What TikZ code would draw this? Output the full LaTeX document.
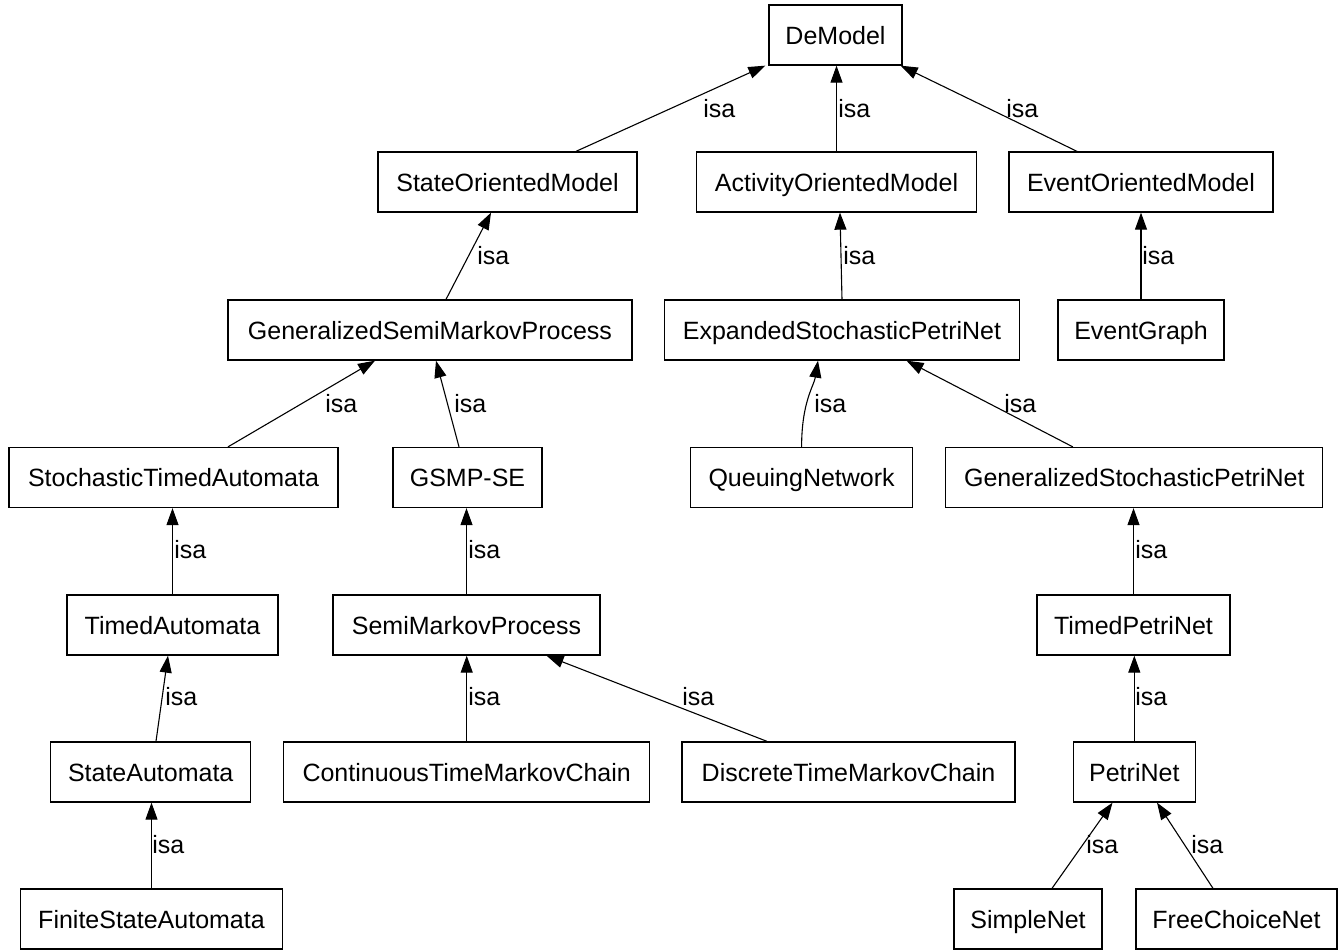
\documentclass[tikz,border=0pt]{standalone}
\usepackage{fontspec}
\setmainfont{Liberation Sans}
\usetikzlibrary{arrows.meta,calc}
\begin{document}
\begin{tikzpicture}[x=0.5pt,y=-0.5pt,
  box/.style={draw, line width=0.65pt, minimum height=30pt, inner sep=0pt,
    text height=9pt, text depth=0pt, font=\fontsize{12.5}{15}\selectfont},
  wd/.style={minimum width=#1*0.5pt},
  isa/.style={line width=0.55pt, -{Triangle[length=8.5pt,width=6pt]}},
  lbl/.style={font=\fontsize{12.5}{15}\selectfont, inner sep=0pt, anchor=base west}]
\useasboundingbox[fill=white] (0,0) rectangle (1344,950);

% nodes
\node[box, wd=133] (demodel) at (835.5,35) {DeModel};
\node[box, wd=259] (som) at (507.5,182) {StateOrientedModel};
\node[box, wd=280] (aom) at (836.5,182) {ActivityOrientedModel};
\node[box, wd=264] (eom) at (1141,182) {EventOrientedModel};
\node[box, wd=404] (gsmp) at (430,330) {GeneralizedSemiMarkovProcess};
\node[box, wd=355] (espn) at (842,330) {ExpandedStochasticPetriNet};
\node[box, wd=166] (eg) at (1141,330) {EventGraph};
\node[box, wd=329] (sta) at (173.5,477.5) {StochasticTimedAutomata};
\node[box, wd=149] (gsmpse) at (467.5,477.5) {GSMP-SE};
\node[box, wd=222] (qn) at (801.6,477.5) {QueuingNetwork};
\node[box, wd=377] (gspn) at (1134.3,477.5) {GeneralizedStochasticPetriNet};
\node[box, wd=211] (ta) at (172.5,625) {TimedAutomata};
\node[box, wd=267] (smp) at (466.5,625) {SemiMarkovProcess};
\node[box, wd=193] (tpn) at (1133.5,625) {TimedPetriNet};
\node[box, wd=200] (sa) at (150.7,772) {StateAutomata};
\node[box, wd=366] (ctmc) at (466.7,772) {ContinuousTimeMarkovChain};
\node[box, wd=333] (dtmc) at (848.5,772) {DiscreteTimeMarkovChain};
\node[box, wd=122] (pn) at (1134.3,772) {PetriNet};
\node[box, wd=262] (fsa) at (151.5,919) {FiniteStateAutomata};
\node[box, wd=148] (sn) at (1028,919) {SimpleNet};
\node[box, wd=201] (fcn) at (1236.5,919) {FreeChoiceNet};

% edges
\draw[isa] ($(som.north)+(68.5,0)$) -- ($(demodel.south west)+(-3,0)$);
\draw[isa] (aom.north) -- (aom.north |- demodel.south);
\draw[isa] ($(eom.north)+(-64,0)$) -- ($(demodel.south east)+(-2,0)$);
\draw[isa] ($(gsmp.north)+(16,0)$) -- ($(som.south)+(-16.5,0)$);
\draw[isa] (espn.north) -- ($(aom.south)+(3.5,0)$);
\draw[isa] (eg.north) -- (eom.south);
\draw[isa] ($(sta.north)+(54.5,0)$) -- ($(gsmp.south)+(-55,0)$);
\draw[isa] ($(gsmpse.north)+(-8.5,0)$) -- ($(gsmp.south)+(6,0)$);
\draw[isa] (qn.north) .. controls +(0,-45) and +(-4,25) .. ($(espn.south)+(-24,0)$);
\draw[isa] ($(gspn.north)+(-61.5,0)$) -- ($(espn.south)+(64.5,0)$);
\draw[isa] (ta.north) -- (ta.north |- sta.south);
\draw[isa] (smp.north) -- (smp.north |- gsmpse.south);
\draw[isa] (tpn.north) -- (tpn.north |- gspn.south);
\draw[isa] ($(sa.north)+(5.3,0)$) -- ($(ta.south)+(-4.5,0)$);
\draw[isa] (ctmc.north) -- (ctmc.north |- smp.south);
\draw[isa] ($(dtmc.north)+(-81.5,0)$) -- ($(smp.south)+(80,0)$);
\draw[isa] (pn.north) -- (pn.north |- tpn.south);
\draw[isa] (fsa.north) -- (fsa.north |- sa.south);
\draw[isa] ($(sn.north)+(24,0)$) -- ($(pn.south)+(-21.8,0)$);
\draw[isa] ($(fcn.north)+(-23.5,0)$) -- ($(pn.south)+(22.7,0)$);

% labels
\node[lbl] (l1) at (703,117) {isa};
\node[lbl] (l2) at (838,117) {isa};
\node[lbl] (l3) at (1006,117) {isa};
\node[lbl] (l4) at (477,264) {isa};
\node[lbl] (l5) at (843,264) {isa};
\node[lbl] (l6) at (1142,264) {isa};
\node[lbl] (l7) at (325,412) {isa};
\node[lbl] (l8) at (454,412) {isa};
\node[lbl] (l9) at (814,412) {isa};
\node[lbl] (l10) at (1004,412) {isa};
\node[lbl] (l11) at (174,558) {isa};
\node[lbl] (l12) at (468,558) {isa};
\node[lbl] (l13) at (1135,558) {isa};
\node[lbl] (l14) at (165,705) {isa};
\node[lbl] (l15) at (468,705) {isa};
\node[lbl] (l16) at (682,705) {isa};
\node[lbl] (l17) at (1135,705) {isa};
\node[lbl] (l18) at (152,853) {isa};
\node[lbl] (l19) at (1086,853) {isa};
\node[lbl] (l20) at (1191,853) {isa};
\end{tikzpicture}
\end{document}
